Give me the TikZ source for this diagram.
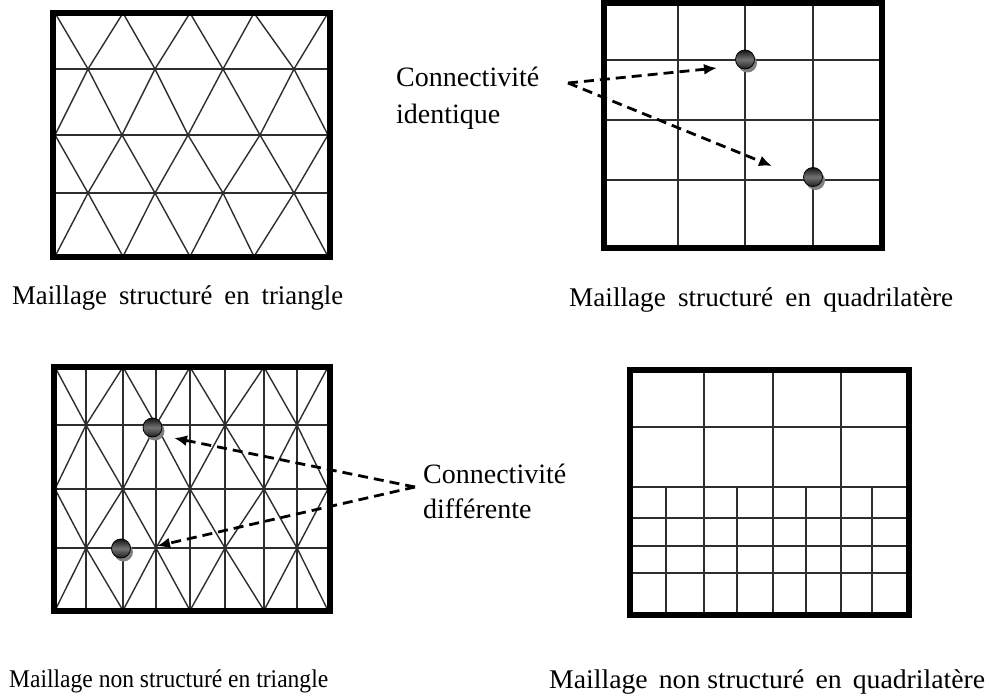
\documentclass[tikz,border=0pt]{standalone}
\usepackage{fontspec}
\setmainfont{Liberation Serif}
\usetikzlibrary{arrows.meta}
\tikzset{
  frame/.style={line width=6pt, draw=black},
  mesh/.style={line width=1.4pt, draw=black!82, line join=miter},
  conn/.style={line width=2.8pt, dash pattern=on 10pt off 6pt, -{Latex[length=13pt,width=11pt]}},
  lbl/.style={inner sep=0pt, anchor=base west, font=\fontsize{28}{34}\selectfont},
  captext/.style={inner sep=0pt, anchor=base west},
  ballshadow/.style={fill=black!50},
  ball/.style={circle, minimum size=19pt, inner sep=0pt, draw=black, line width=0.8pt,
    top color=black!92, bottom color=black!88, middle color=black!55}
}
\newcommand{\fitto}[2]{\resizebox{#1}{\height}{#2}}
\begin{document}
\begin{tikzpicture}[x=1pt,y=-1pt]
\useasboundingbox (0,0) rectangle (989,696);

% ---------- Top-left: structured triangles ----------
\begin{scope}
\clip (53,13) rectangle (330,256.5);
\draw[mesh] (55,13)--(88,69)--(123,13)--(155,69)--(190,13)--(223,69)--(254,13)--(294,69)--(328,13);
\draw[mesh] (55,135)--(88,69)--(122,135)--(155,69)--(188,135)--(223,69)--(260,135)--(294,69)--(328,135);
\draw[mesh] (55,135)--(88,193)--(122,135)--(155,193)--(188,135)--(223,193)--(260,135)--(294,193)--(328,135);
\draw[mesh] (55,256.5)--(88,193)--(123,256.5)--(155,193)--(190,256.5)--(223,193)--(254,256.5)--(294,193)--(328,256.5);
\foreach \y in {69,135,193} \draw[mesh] (53,\y) -- (330,\y);
\end{scope}
\draw[frame] (53,13) rectangle (330,256.5);

% ---------- Top-right: structured quads ----------
\begin{scope}
\clip (603.5,2.5) rectangle (882,248);
\foreach \x in {678,745,813} \draw[mesh] (\x,2.5) -- (\x,248);
\foreach \y in {60,120,180} \draw[mesh] (603.5,\y) -- (882,\y);
\end{scope}
\draw[frame] (603.5,3) rectangle (882,248);

% ---------- Bottom-left: unstructured triangles ----------
\begin{scope}
\clip (53.5,367) rectangle (330,610.5);
\draw[mesh] (55,367)--(86,425)--(123,367)--(156,425)--(190,367)--(225,425)--(264,367)--(297,425)--(328,367);
\draw[mesh] (55,489)--(86,425)--(123,489)--(156,425)--(190,489)--(225,425)--(264,489)--(297,425)--(328,489);
\draw[mesh] (55,489)--(86,548)--(123,489)--(156,548)--(190,489)--(225,548)--(264,489)--(297,548)--(328,489);
\draw[mesh] (55,610.5)--(86,548)--(123,610.5)--(156,548)--(190,610.5)--(225,548)--(264,610.5)--(297,548)--(328,610.5);
\foreach \y in {425,489,548} \draw[mesh] (53.5,\y) -- (330,\y);
\foreach \x in {86,123,156,190,225,264,297} \draw[mesh] (\x,367) -- (\x,610.5);
\end{scope}
\draw[frame] (53.5,367) rectangle (330,610.5);

% ---------- Bottom-right: unstructured quads ----------
\begin{scope}
\clip (630,370) rectangle (909,614.5);
\foreach \y in {427,487,518,546,573} \draw[mesh] (630,\y) -- (909,\y);
\foreach \x in {704,773,841} \draw[mesh] (\x,370) -- (\x,487);
\foreach \x in {666,704,737,773,806,841,872} \draw[mesh] (\x,487) -- (\x,614.5);
\end{scope}
\draw[frame] (630,370) rectangle (909,614.5);

% ---------- Balls ----------
\foreach \p/\n in {{745,59.5}/b1,{813,177}/b2,{152.5,427.5}/b3,{121,548.5}/b4}{
  \fill[ballshadow] ([shift={(2.5,3.5)}]\p) circle (9.5pt);
  \node[ball] (\n) at (\p) {};
}

% ---------- Labels ----------
\node[lbl] (ci1) at (396,86) {Connectivité};
\node[lbl] (ci2) at (396,123) {identique};
\node[lbl] (cd1) at (423,483) {Connectivité};
\node[lbl] (cd2) at (423,518) {différente};

% ---------- Connectors ----------
\coordinate (si) at (568,83);
\coordinate (ti1) at (717,68);
\coordinate (ti2) at (772,166);
\draw[conn] (si) -- (ti1);
\draw[conn] (si) -- (ti2);
\coordinate (sd) at (415,487);
\coordinate (td1) at (174,438);
\coordinate (td2) at (157,546);
\draw[conn] (sd) -- (td1);
\draw[conn] (sd) -- (td2);

% ---------- Captions ----------
\node[captext] (c1) at (12,304) {\fontsize{27}{30}\selectfont\fitto{331pt}{Maillage\hspace{0.45em}structuré\hspace{0.45em}en\hspace{0.45em}triangle}};
\node[captext] (c2) at (569,306) {\fontsize{27}{30}\selectfont\fitto{384pt}{Maillage\hspace{0.45em}structuré\hspace{0.45em}en\hspace{0.45em}quadrilatère}};
\node[captext] (c3) at (9,687) {\fontsize{25.5}{30}\selectfont\fitto{319pt}{Maillage non structuré en triangle}};
\node[captext] (c4) at (549,688) {\fontsize{27}{30}\selectfont\fitto{436pt}{Maillage\hspace{0.4em}non structuré\hspace{0.4em}en\hspace{0.4em}quadrilatère}};
\end{tikzpicture}
\end{document}
